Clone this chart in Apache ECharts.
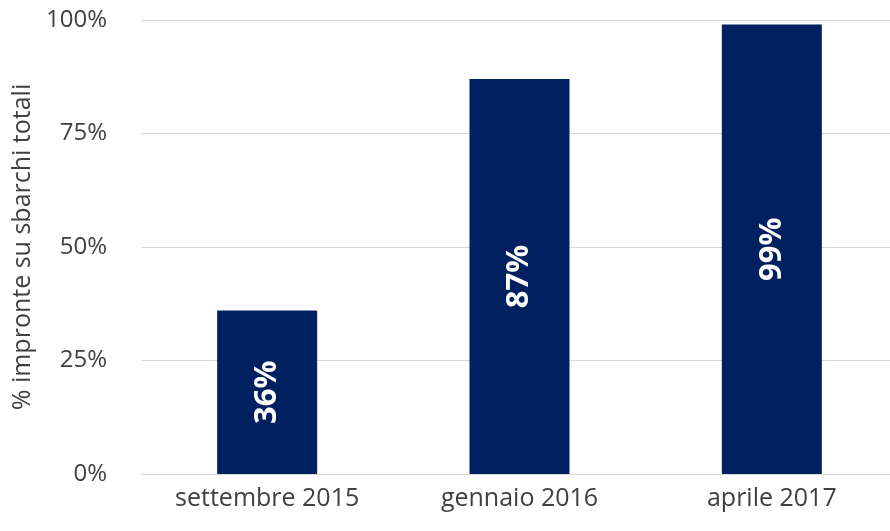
<!DOCTYPE html>
<html>
<head>
<meta charset="utf-8">
<script src="https://cdn.jsdelivr.net/npm/echarts@6/dist/echarts.min.js"></script>
<style>
  html, body { margin: 0; padding: 0; background: #fff; }
  #chart { width: 890px; height: 531px; }
</style>
</head>
<body>
<div id="chart"></div>
<script>
const categories = ["settembre 2015", "gennaio 2016", "aprile 2017"];
const shareValues = [36, 87, 99];
const yTicks = [0, 25, 50, 75, 100];

const chart = echarts.init(document.getElementById("chart"));
const font = "'Open Sans', 'Liberation Sans', sans-serif";

const option = {
  animation: false,
  grid: { left: 141, width: 757, top: 20, bottom: 57, outerBoundsMode: "none" },
  xAxis: {
    type: "category",
    data: categories,
    axisLine: { show: false },
    axisTick: { show: false },
    axisLabel: { color: "#404040", fontSize: 25, fontFamily: font, margin: 12 },
  },
  yAxis: {
    type: "value",
    min: yTicks[0],
    max: yTicks[yTicks.length - 1],
    interval: 25,
    name: "% impronte su sbarchi totali",
    nameLocation: "middle",
    nameRotate: 90,
    nameGap: 106,
    nameTextStyle: { color: "#404040", fontSize: 25, fontFamily: font },
    axisLabel: {
      formatter: "{value}%",
      color: "#404040",
      fontSize: 24,
      fontFamily: font,
      margin: 34,
    },
    splitLine: { lineStyle: { color: "#d9d9d9", width: 1 } },
  },
  series: [
    {
      type: "bar",
      data: shareValues,
      barWidth: 100,
      itemStyle: { color: "#002060" },
      label: {
        show: true,
        position: "inside",
        rotate: 90,
        formatter: "{c}%",
        color: "#fff",
        fontWeight: "bold",
        fontSize: 31,
        fontFamily: font,
      },
    },
  ],
};

chart.setOption(option);
</script>
</body>
</html>
